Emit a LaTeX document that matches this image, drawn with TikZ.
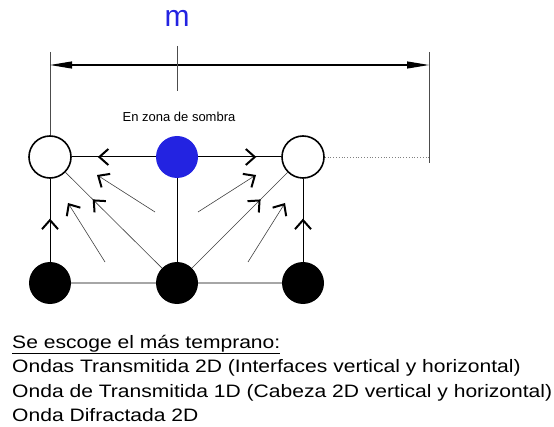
\documentclass[tikz,border=0pt]{standalone}
\usepackage{fontspec}
\setmainfont{Liberation Sans}
\usetikzlibrary{arrows.meta,decorations.markings}
\definecolor{azul}{RGB}{35,35,225}
\tikzset{
  hueco/.style={circle,draw,line width=1.6pt,fill=white,minimum size=42pt,inner sep=0pt},
  lleno/.style={circle,fill=black,minimum size=42pt,inner sep=0pt},
  sombra/.style={circle,fill=azul,minimum size=42pt,inner sep=0pt},
  chev/.tip={Straight Barb[length=9pt,width=16pt,line width=2pt,color=black]},
  flecha/.style={postaction={decorate},decoration={markings,mark=at position #1 with {\arrow{chev}}}},
  rayo/.style={draw=black!75,line width=0.6pt},
  cota/.style={draw=black!70,line width=0.9pt},
  leyenda/.style={anchor=base west,font=\fontsize{18}{22}\selectfont,xscale=1.17,inner sep=0pt},
}
\begin{document}
\begin{tikzpicture}[x=1pt,y=1pt]
\useasboundingbox (0,0) rectangle (554,426);
% nodos de la malla
\node[hueco] (lo) at (50,269) {};
\node[sombra] (bl) at (177,269) {};
\node[hueco] (ro) at (303,269) {};
\node[lleno] (lb) at (50,143) {};
\node[lleno] (mb) at (177,143) {};
\node[lleno] (rb) at (303,143) {};

% cota m
\coordinate (cl) at (50,374);
\coordinate (cr) at (429,374);
\coordinate (crb) at (429,263);
\coordinate (dl) at (50,361);
\coordinate (dr) at (429,361);
\coordinate (tt) at (177,380);
\coordinate (tb) at (177,335);
\coordinate (pd) at (429,269);
\draw[cota] (cl) -- (lo);
\draw[cota] (cr) -- (crb);
\draw[line width=1.1pt,{Triangle[length=22pt,width=7pt]}-{Triangle[length=22pt,width=7pt]}] (dl) -- (dr);
\draw[cota] (tt) -- (tb);
\draw[dotted,draw=black!50,line width=0.8pt] (ro) -- (pd);
\node[text=azul,font=\fontsize{30}{30}\selectfont,anchor=base] (m) at (177,399) {m};
\node[font=\fontsize{13}{13}\selectfont,anchor=base] (zona) at (179,304) {En zona de sombra};

% caminos entre nodos
\draw[line width=1pt,flecha=0.69] (bl) -- (lo);
\draw[line width=1pt,flecha=0.70] (bl) -- (ro);
\draw[line width=1pt] (bl) -- (mb);
\draw[line width=1pt,flecha=0.52] (lb) -- (lo);
\draw[line width=1pt,flecha=0.52] (rb) -- (ro);
\draw[draw=black!35,line width=1.5pt] (lb) -- (mb) -- (rb);
\draw[rayo,flecha=0.72] (mb) -- (lo);
\draw[rayo,flecha=0.72] (mb) -- (ro);

% rayos sueltos
\coordinate (a1) at (105,164); \coordinate (a1t) at (68,223);
\coordinate (a2) at (155,214); \coordinate (a2t) at (97,251);
\coordinate (a3) at (248,164); \coordinate (a3t) at (285,223);
\coordinate (a4) at (198,214); \coordinate (a4t) at (256,251);
\draw[rayo,-chev] (a1) -- (a1t);
\draw[rayo,-chev] (a2) -- (a2t);
\draw[rayo,-chev] (a3) -- (a3t);
\draw[rayo,-chev] (a4) -- (a4t);

% texto inferior
\node[leyenda] (t1) at (12,78) {\underline{Se escoge el más temprano:}};
\node[leyenda] (t2) at (12,53.5) {Ondas Transmitida 2D (Interfaces vertical y horizontal)};
\node[leyenda] (t3) at (12,29) {Onda de Transmitida 1D (Cabeza 2D vertical y horizontal)};
\node[leyenda] (t4) at (12,5) {Onda Difractada 2D};
\end{tikzpicture}
\end{document}
